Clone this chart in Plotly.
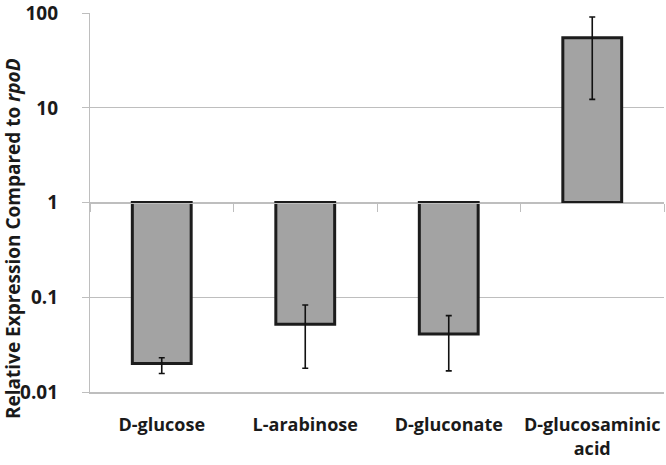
import plotly.graph_objects as go

categories = ["D-glucose", "L-arabinose", "D-gluconate", "D-glucosaminic<br>acid"]
expression = [0.020, 0.052, 0.041, 55.0]
err_upper = [0.023, 0.083, 0.064, 91.0]
err_lower = [0.0157, 0.0178, 0.0167, 12.3]
tick_vals = [0.01, 0.1, 1, 10, 100]
tick_text = ["0.01", "0.1", "1", "10", "100"]
baseline = 1

FONT = "Open Sans, sans-serif"
GRID = "#BEBEBE"

fig = go.Figure()

fig.add_trace(go.Bar(
    x=categories,
    y=[v - baseline for v in expression],
    base=[baseline] * len(categories),
    width=0.41,
    marker=dict(color="#A3A3A3", line=dict(color="#1C1C1C", width=3)),
    showlegend=False,
))

# error bars drawn at the bar ends, on an overlay axis that crosses at y=1
fig.add_trace(go.Scatter(
    x=categories,
    y=expression,
    xaxis="x2",
    mode="markers",
    marker=dict(size=1, color="rgba(0,0,0,0)"),
    error_y=dict(
        type="data", symmetric=False,
        array=[u - v for u, v in zip(err_upper, expression)],
        arrayminus=[v - l for v, l in zip(expression, err_lower)],
        color="#111111", thickness=1.6, width=3,
    ),
    showlegend=False,
))

fig.update_layout(
    width=666, height=465,
    margin=dict(l=90, r=2, t=13, b=73),
    paper_bgcolor="white", plot_bgcolor="white",
    font=dict(family=FONT, color="#1A1A1A"),
    xaxis=dict(
        type="category", showgrid=False, showline=True, linecolor=GRID, linewidth=1.5,
        ticks="", tickfont=dict(size=18, family=FONT, weight="bold"),
        ticklabelstandoff=16,
        range=[-0.5, 3.5], automargin=False, ticklabeloverflow="allow",
    ),
    xaxis2=dict(
        type="category", overlaying="x", anchor="free", position=0.5,
        showline=True, linecolor=GRID, linewidth=1.2, showgrid=False,
        ticks="outside", tickson="boundaries", ticklen=8, tickcolor=GRID,
        showticklabels=False, range=[-0.5, 3.5], automargin=False,
    ),
    yaxis=dict(
        type="log", range=[-2, 2.002],
        tickvals=tick_vals, ticktext=tick_text,
        showgrid=True, gridcolor=GRID, gridwidth=1.2,
        showline=True, linecolor=GRID, linewidth=1.2,
        ticks="outside", ticklen=7, tickcolor=GRID,
        tickfont=dict(size=19, family=FONT, weight="bold"),
        ticklabelstandoff=20,
        zeroline=False, automargin=False, ticklabeloverflow="allow",
    ),
    annotations=[dict(
        text="Relative Expression Compared to <i>rpoD</i>",
        textangle=-90, xref="paper", yref="paper",
        x=-0.135, y=0.405, xanchor="center", yanchor="middle",
        showarrow=False, font=dict(size=19, family=FONT, weight="bold"),
    )],
)

# the page's default body margin would push the 666x465 figure off the window
fig.write_html("out.html", config={"displayModeBar": False},
               post_script="document.body.style.margin='0';")
